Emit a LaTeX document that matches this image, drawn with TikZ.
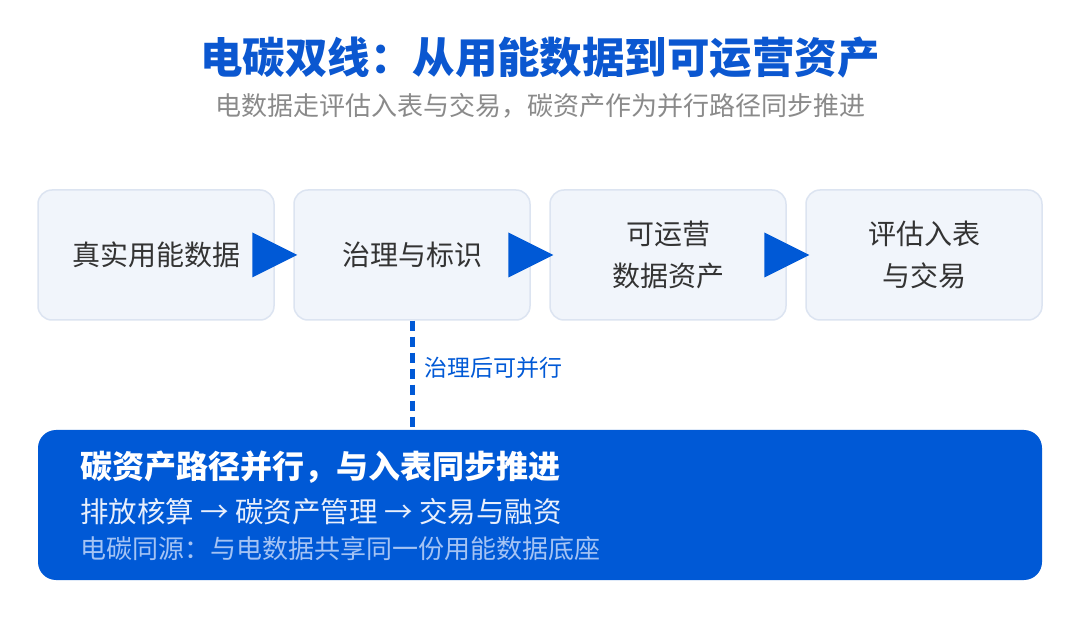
\documentclass[tikz,border=0pt]{standalone}
\usepackage{fontspec}
\setmainfont{Noto Sans CJK SC}
\usetikzlibrary{calc}
\definecolor{titleblue}{HTML}{0B57D0}
\definecolor{mainblue}{HTML}{0059D6}
\definecolor{boxfill}{HTML}{F1F5FB}
\definecolor{boxline}{HTML}{DCE4F1}
\definecolor{txtdark}{HTML}{333333}
\definecolor{subgray}{HTML}{8A8A8A}
\definecolor{lightline}{HTML}{E8EFFC}
\definecolor{paleblue}{HTML}{A4C3F4}
\begin{document}
\begin{tikzpicture}[x=1pt,y=-1pt,
  stepbox/.style={draw=boxline, line width=1.5pt, fill=boxfill, rounded corners=14pt,
    minimum width=236pt, minimum height=130pt, inner sep=0pt, align=center,
    text=txtdark, font=\fontsize{28}{42}\selectfont},
  flowtip/.style={fill=mainblue},
  bandbox/.style={fill=mainblue, rounded corners=18pt, minimum width=1004pt,
    minimum height=150pt, inner sep=0pt},
  bandtxt/.style={anchor=west, inner sep=0pt},
  linkdash/.style={draw=mainblue, line width=5pt, dash pattern=on 10pt off 6pt}
]
\useasboundingbox (0,0) rectangle (1080,620);
\fill[white] (0,0) rectangle (1080,620);

\node[text=titleblue, font=\fontsize{42.5}{50}\selectfont\bfseries] (title) at (540,58) {电碳双线：从用能数据到可运营资产};
\node[text=subgray, font=\fontsize{26}{30}\selectfont] (subtitle) at (540,106) {电数据走评估入表与交易，碳资产作为并行路径同步推进};

\node[stepbox] (b1) at (156,255) {真实用能数据};
\node[stepbox] (b2) at (412,255) {治理与标识};
\node[stepbox] (b3) at (668,255) {可运营\\数据资产};
\node[stepbox] (b4) at (924,255) {评估入表\\与交易};

\foreach \n in {b2,b3,b4}{
  \fill[flowtip] ($(\n.west)+(4,0)$) -- ++(-45,-22.5) -- ++(0,45) -- cycle;
}

\node[bandbox] (band) at (540,505) {};
\draw[linkdash] (b2.south) -- (b2.south |- band.north);
\node[anchor=west, inner sep=0pt, text=mainblue, font=\fontsize{23}{28}\selectfont] (lbl) at (424,368) {治理后可并行};

\node[bandtxt, text=white, font=\fontsize{32}{36}\selectfont\bfseries] (l1) at (80,467) {碳资产路径并行，与入表同步推进};
\node[bandtxt, text=lightline, font=\fontsize{28.5}{34}\selectfont] (l2) at (80,512) {排放核算 → 碳资产管理 → 交易与融资};
\node[bandtxt, text=paleblue, font=\fontsize{26}{30}\selectfont] (l3) at (80,549) {电碳同源：与电数据共享同一份用能数据底座};
\end{tikzpicture}
\end{document}
